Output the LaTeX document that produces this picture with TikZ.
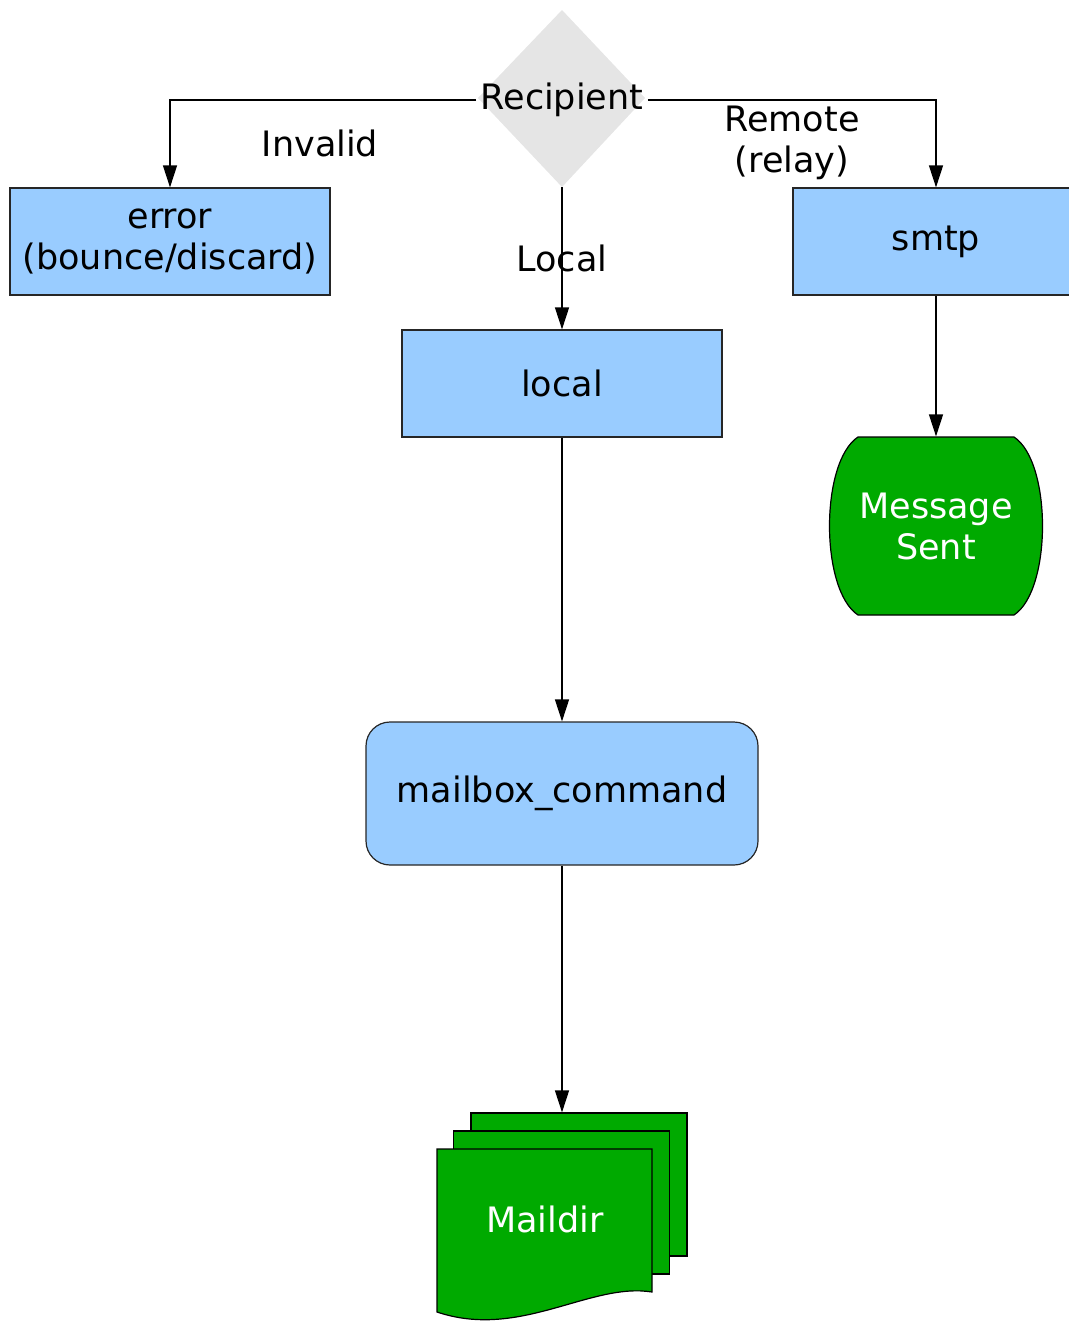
\documentclass[tikz,border=0pt]{standalone}
\usepackage{fontspec}
\setmainfont{DejaVu Sans}
\usepackage{tikz}
\usetikzlibrary{arrows.meta}
\definecolor{boxblue}{RGB}{153,204,255}
\definecolor{endgreen}{RGB}{0,170,0}

\begin{document}
\begin{tikzpicture}
            [x=0.5pt,y=-0.5pt,line width=0.6pt,
             every node/.style={font=\fontsize{17.5}{20.5}\selectfont,align=center,inner sep=2pt},
             proc/.style={rectangle,draw=black!85,fill=boxblue,minimum width=160pt,minimum height=53.5pt},
             sheet/.style={rectangle,draw=black,fill=endgreen,minimum width=108pt,minimum height=71.5pt,inner sep=0pt},
             arr/.style={-{Triangle[length=11pt,width=7pt]}}]
            \useasboundingbox (0,0) rectangle (1069,1322);
            \clip (0,0) rectangle (1069,1322);
            % the decision
            \fill[gray!20] (562,10) -- (645,98) -- (562,187) -- (478,98) -- cycle;
            \node (rec) at (562,100) {Recipient};
            \coordinate (recbot) at (562,187);
            % the boxes
            \node[proc] (err) at (170,241.5) {error\\(bounce/discard)};
            \node[proc,minimum width=143pt] (smtp) at (936,241.5) {smtp};
            \node[proc] (local) at (562,383.5) {local};
            \node[proc,minimum width=196pt,minimum height=71.5pt,rounded corners=12pt] (cmd) at (562,793.5) {mailbox\_command};
            % message sent
            \filldraw[fill=endgreen,draw=black] (858,437) -- (1014,437) .. controls (1052,462) and (1052,590) .. (1014,615)
                -- (858,615) .. controls (820,590) and (820,462) .. (858,437) -- cycle;
            \node[text=white,minimum height=89pt] (sent) at (936,526) {Message\\Sent};
            % maildir
            \node[sheet] (dir3) at (579,1184.5) {};
            \node[sheet] (dir2) at (561.5,1202.5) {};
            \filldraw[fill=endgreen,draw=black] (437,1149) -- (652,1149) -- (652,1292)
                .. controls (590,1282) and (520,1340) .. (437,1312) -- cycle;
            \node[text=white] (dir) at (545,1219) {Maildir};
            % connectors
            \draw[arr] (rec.west) -| (err.north);
            \draw[arr] (rec.east) -| (smtp.north);
            \draw[arr] (recbot) -- (local.north);
            \draw[arr] (smtp.south) -- (sent.north);
            \draw[arr] (local.south) -- (cmd.north);
            \draw[arr] (cmd.south) -- (cmd.south |- dir3.north);
            % labels
            \node (inv) at (320,143) {Invalid};
            \node (rem) at (792,143) {Remote\\(relay)};
            \node (loc) at (562,258) {Local};
        \end{tikzpicture}
\end{document}
